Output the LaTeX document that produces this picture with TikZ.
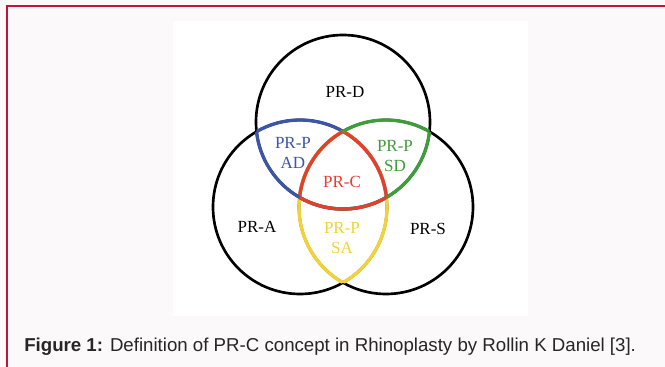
\documentclass[tikz,border=0pt]{standalone}
\usepackage{fontspec}
\setmainfont{Liberation Serif}
\newfontfamily\capfont{Liberation Sans}
\definecolor{bgpink}{HTML}{FBF9FA}
\definecolor{framered}{HTML}{C8103A}
\definecolor{cblue}{HTML}{3C55A5}
\definecolor{cgreen}{HTML}{3F9C3A}
\definecolor{cred}{HTML}{E2402F}
\definecolor{cyellow}{HTML}{F2D23A}
\definecolor{captext}{HTML}{262626}
\begin{document}
\begin{tikzpicture}[x=0.75pt,y=-0.75pt,
  ring/.style={line width=2pt},
  cring/.style={line width=2.5pt},
  lbl/.style={font=\fontsize{12.75pt}{15pt}\selectfont, inner sep=0pt, align=center},
  frame/.style={draw=framered, line width=1.2pt}]
\def\R{65.25pt}
\useasboundingbox (0,0) rectangle (665,367);
\fill[bgpink] (0,0) rectangle (665,367);
\fill[white] (173,21) rectangle (528,316);
\draw[frame] (7,367) -- (7,6) -- (665,6);
\coordinate (cD) at (343,122);
\coordinate (cA) at (300,207);
\coordinate (cS) at (386,207);
% black circles
\draw[ring] (cD) circle[radius=\R];
\draw[ring] (cA) circle[radius=\R];
\draw[ring] (cS) circle[radius=\R];
% circle A coloured parts
\begin{scope}\clip (cD) circle[radius=\R]; \draw[cring,cblue] (cA) circle[radius=\R];\end{scope}
\begin{scope}\clip (cS) circle[radius=\R]; \draw[cring,cyellow] (cA) circle[radius=\R];\end{scope}
\begin{scope}\clip (cD) circle[radius=\R]; \clip (cS) circle[radius=\R]; \draw[cring,cred] (cA) circle[radius=\R];\end{scope}
% circle S coloured parts
\begin{scope}\clip (cD) circle[radius=\R]; \draw[cring,cgreen] (cS) circle[radius=\R];\end{scope}
\begin{scope}\clip (cA) circle[radius=\R]; \draw[cring,cyellow] (cS) circle[radius=\R];\end{scope}
\begin{scope}\clip (cD) circle[radius=\R]; \clip (cA) circle[radius=\R]; \draw[cring,cred] (cS) circle[radius=\R];\end{scope}
% circle D coloured parts
\begin{scope}\clip (cA) circle[radius=\R]; \draw[cring,cblue] (cD) circle[radius=\R];\end{scope}
\begin{scope}\clip (cS) circle[radius=\R]; \draw[cring,cgreen] (cD) circle[radius=\R];\end{scope}
\begin{scope}\clip (cA) circle[radius=\R]; \clip (cS) circle[radius=\R]; \draw[cring,cred] (cD) circle[radius=\R];\end{scope}
% labels
\node[lbl] (tD) at (345,92) {PR-D};
\node[lbl,text=cblue] (tAD) at (293,153) {PR-P\\AD};
\node[lbl,text=cgreen] (tSD) at (395,156) {PR-P\\SD};
\node[lbl,text=cred] (tC) at (342,182) {PR-C};
\node[lbl] (tA) at (257,227) {PR-A};
\node[lbl] (tS) at (428,229) {PR-S};
\node[lbl,text=cyellow] (tSA) at (342,238) {PR-P\\SA};
% caption
\node[anchor=base west, inner sep=0pt, text=captext, font=\capfont\fontsize{14pt}{16pt}\selectfont] (cap) at (24,352) {\textbf{Figure 1:} Definition of PR-C concept in Rhinoplasty by Rollin K Daniel [3].};
\end{tikzpicture}
\end{document}
